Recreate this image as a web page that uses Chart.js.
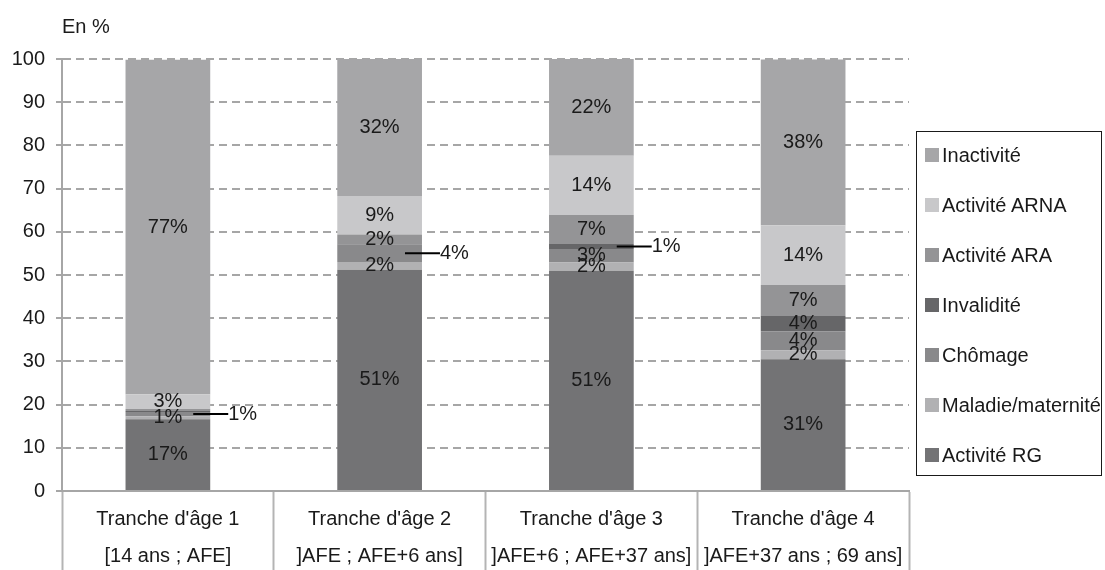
<!DOCTYPE html>
<html lang="fr">
<head>
<meta charset="utf-8">
<title>Répartition par tranche d'âge</title>
<script src="https://cdn.jsdelivr.net/npm/chart.js@4.4.1/dist/chart.umd.min.js"></script>
<style>
  html, body { margin: 0; padding: 0; background: #ffffff; }
  #wrap { position: relative; width: 1105px; height: 570px; overflow: hidden; font-family: "Liberation Sans", Arial, sans-serif; color: #1a1a1a; }
  #c { position: absolute; left: 0; top: 0; }
  #unit { position: absolute; left: 62px; top: 14px; font-size: 20px; line-height: 24px; }
  #legend { position: absolute; left: 916px; top: 131px; width: 186px; height: 345px; border: 1px solid #1a1a1a; box-sizing: border-box; }
  .li { position: absolute; left: 8px; height: 24px; display: flex; align-items: center; font-size: 20px; white-space: nowrap; }
  .sw { width: 14px; height: 14px; margin-right: 3px; flex: none; }
</style>
</head>
<body>
<div id="wrap">
  <canvas id="c" width="1105" height="570"></canvas>
  <div id="unit">En %</div>
  <div id="legend"></div>
</div>
<script>
// ---- Data ----
const ageBands  = ["Tranche d'âge 1", "Tranche d'âge 2", "Tranche d'âge 3", "Tranche d'âge 4"];
const ageRanges = ["[14 ans ; AFE]", "]AFE ; AFE+6 ans]", "]AFE+6 ; AFE+37 ans]", "]AFE+37 ans ; 69 ans]"];

const activiteRG   = [16.6, 51.2, 51.0, 30.5];
const maladie      = [0.7, 1.8, 1.9, 2.1];
const chomage      = [1.0, 4.1, 3.1, 4.4];
const invalidite   = [0.2, 0.1, 1.2, 3.5];
const activiteARA  = [0.5, 2.2, 6.7, 7.2];
const activiteARNA = [3.4, 8.9, 13.7, 13.8];
const inactivite   = [77.4, 31.7, 22.4, 38.4];

const yTicks = [0, 10, 20, 30, 40, 50, 60, 70, 80, 90, 100];

// ---- Label display modes: 'in' = inside bar, 'out' = leader line, '' = none ----
const labelModes = {
  'Activité RG':       ['in', 'in', 'in', 'in'],
  'Maladie/maternité': ['in', 'in', 'in', 'in'],
  'Chômage':           ['out', 'out', 'in', 'in'],
  'Invalidité':        ['', '', 'out', 'in'],
  'Activité ARA':      ['', 'in', 'in', 'in'],
  'Activité ARNA':     ['in', 'in', 'in', 'in'],
  'Inactivité':        ['in', 'in', 'in', 'in']
};

const FONT = '"Liberation Sans", Arial, sans-serif';

const series = [
  { label: 'Activité RG',       data: activiteRG,   color: '#737375' },
  { label: 'Maladie/maternité', data: maladie,      color: '#b1b1b3' },
  { label: 'Chômage',           data: chomage,      color: '#89898b' },
  { label: 'Invalidité',        data: invalidite,   color: '#666668' },
  { label: 'Activité ARA',      data: activiteARA,  color: '#949496' },
  { label: 'Activité ARNA',     data: activiteARNA, color: '#c8c8ca' },
  { label: 'Inactivité',        data: inactivite,   color: '#a6a6a8' }
];

const valueLabels = {
  id: 'valueLabels',
  afterDatasetsDraw(chart) {
    const ctx = chart.ctx;
    ctx.save();
    ctx.font = '20px ' + FONT;
    ctx.fillStyle = '#1a1a1a';
    ctx.textBaseline = 'middle';
    chart.data.datasets.forEach((ds, di) => {
      const meta = chart.getDatasetMeta(di);
      const modes = labelModes[ds.label];
      meta.data.forEach((el, i) => {
        const mode = modes[i];
        if (!mode) return;
        const txt = Math.round(ds.data[i]) + '%';
        const cy = (el.y + el.base) / 2;
        if (mode === 'in') {
          ctx.textAlign = 'center';
          ctx.fillText(txt, el.x, cy);
        } else {
          const right = el.x + el.width / 2;
          ctx.strokeStyle = '#000000';
          ctx.lineWidth = 2;
          ctx.beginPath();
          ctx.moveTo(right - 17, cy);
          ctx.lineTo(right + 18, cy);
          ctx.stroke();
          ctx.textAlign = 'left';
          ctx.fillText(txt, right + 18, cy);
        }
      });
    });
    ctx.restore();
  }
};

const chart = new Chart(document.getElementById('c'), {
  type: 'bar',
  data: {
    labels: ageBands.map((b, i) => [b, ageRanges[i]]),
    datasets: series.map(s => ({
      label: s.label,
      data: s.data,
      backgroundColor: s.color,
      borderWidth: 0,
      barPercentage: 0.4,
      categoryPercentage: 1.0
    }))
  },
  options: {
    responsive: false,
    animation: false,
    layout: { padding: { left: 0, right: 196, top: 59, bottom: 0 } },
    plugins: { legend: { display: false }, tooltip: { enabled: false } },
    scales: {
      x: {
        stacked: true,
        offset: true,
        grid: {
          display: true,
          offset: true,
          drawOnChartArea: false,
          drawTicks: true,
          tickLength: 79,
          tickColor: '#b4b4b4',
          tickWidth: 2,
          tickBorderDash: []
        },
        border: { display: true, color: '#a6a6a6', width: 2 },
        ticks: {
          autoSkip: false,
          maxRotation: 0,
          minRotation: 0,
          padding: -69,
          color: '#1a1a1a',
          font: { family: FONT, size: 20, lineHeight: 1.85 }
        },
        afterFit(scale) { scale.height = 79; }
      },
      y: {
        stacked: true,
        min: 0,
        max: 100,
        afterBuildTicks(scale) { scale.ticks = yTicks.map(v => ({ value: v })); },
        grid: {
          color: '#a6a6a6',
          lineWidth: 2,
          drawTicks: true,
          tickLength: 6,
          tickColor: '#a6a6a6',
          tickWidth: 2,
          tickBorderDash: []
        },
        border: { display: true, color: '#a6a6a6', width: 2, dash: [8, 5] },
        ticks: {
          padding: 11,
          color: '#1a1a1a',
          font: { family: FONT, size: 20 }
        },
        afterFit(scale) { scale.width = 62; }
      }
    }
  },
  plugins: [valueLabels]
});

// HTML legend built from the chart's datasets (top to bottom = reverse stack order)
const legend = document.getElementById('legend');
chart.data.datasets.slice().reverse().forEach((ds, k) => {
  const item = document.createElement('div');
  item.className = 'li';
  item.style.top = (11 + k * 50) + 'px';
  const sw = document.createElement('span');
  sw.className = 'sw';
  sw.style.background = ds.backgroundColor;
  const t = document.createElement('span');
  t.textContent = ds.label;
  item.appendChild(sw);
  item.appendChild(t);
  legend.appendChild(item);
});
</script>
</body>
</html>
